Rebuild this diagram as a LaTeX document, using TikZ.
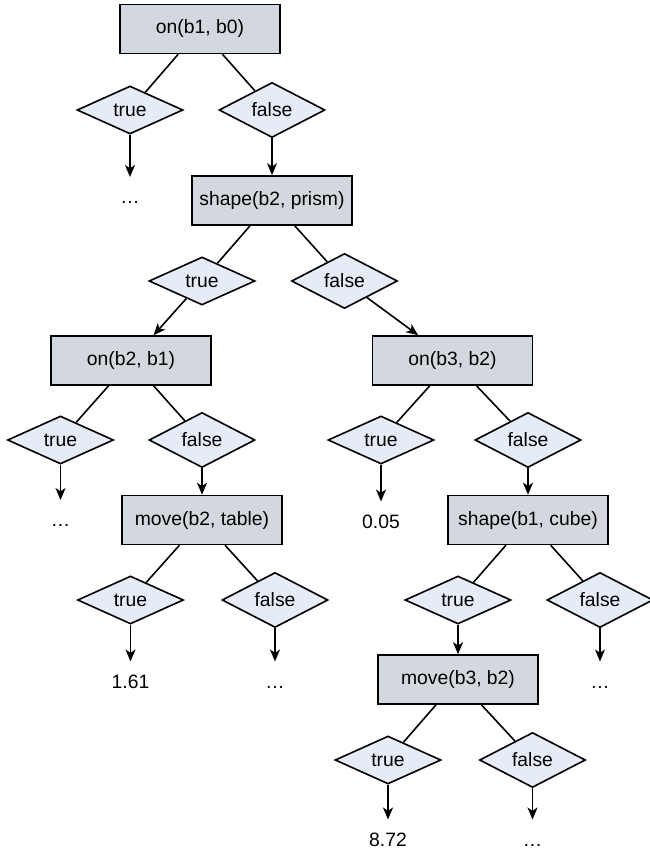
\documentclass[tikz,border=0pt]{standalone}
\usepackage{fontspec}
\setmainfont{Liberation Sans}
\usetikzlibrary{shapes.geometric,arrows.meta}

\definecolor{boxgray}{RGB}{211,216,222}
\definecolor{diamblue}{RGB}{229,235,247}

\tikzset{
  test/.style={draw, line width=1.2pt, fill=boxgray, rectangle, minimum width=120pt, minimum height=36.75pt, inner sep=0pt},
  answer/.style={draw, line width=1.2pt, fill=diamblue, diamond, minimum width=79.5pt, minimum height=36pt, inner sep=0pt},
  leaf/.style={inner xsep=2pt, inner ysep=9.6pt, text height=10.4pt, text depth=0pt},
  branch/.style={line width=1.2pt},
  arrow/.style={line width=1.2pt, -{Stealth[length=9pt,width=7.5pt,inset=2.5pt]}}
}

\begin{document}
\begin{tikzpicture}[x=0.75pt,y=0.75pt,yscale=-1,xscale=1,font=\fontsize{14.5}{17}\selectfont]
\useasboundingbox (0,0) rectangle (649,855);

% Test: on(b1, b0)
\node [test] (on10) at (200,29) {on(b1, b0)};
\node [answer] (on10t) at (130,110) {true};
\node [answer] (on10f) at (272,110) {false};
\node [leaf] (leafa) at (130,197) {…};

% Test: shape(b2, prism)
\node [test] (shape2) at (272,200.5) {shape(b2, prism)};
\node [answer] (shape2t) at (202,281) {true};
\node [answer] (shape2f) at (344.5,281) {false};

% Test: on(b2, b1)
\node [test] (on21) at (131,360.5) {on(b2, b1)};
\node [answer] (on21t) at (60.5,440) {true};
\node [answer] (on21f) at (202,440) {false};
\node [leaf] (leafb) at (60.5,520) {…};

% Test: on(b3, b2)
\node [test] (on32) at (452.5,360.5) {on(b3, b2)};
\node [answer] (on32t) at (381,440) {true};
\node [answer] (on32f) at (528,440) {false};
\node [leaf] (leafc) at (381,521.5) {0.05};

% Test: move(b2, table)
\node [test] (move2) at (202,520) {move(b2, table)};
\node [answer] (move2t) at (130.5,600) {true};
\node [answer] (move2f) at (275,600) {false};
\node [leaf] (leafd) at (130.5,681.5) {1.61};
\node [leaf] (leafe) at (275,681.5) {…};

% Test: shape(b1, cube)
\node [test] (shape1) at (528,520) {shape(b1, cube)};
\node [answer] (shape1t) at (458,600) {true};
\node [answer] (shape1f) at (600,600) {false};
\node [leaf] (leaff) at (600,681.5) {…};

% Test: move(b3, b2)
\node [test] (move3) at (458,679.5) {move(b3, b2)};
\node [answer] (move3t) at (388,760) {true};
\node [answer] (move3f) at (532.5,760) {false};
\node [leaf] (leafg) at (388,839.5) {8.72};
\node [leaf] (leafh) at (532.5,839.5) {…};

% Branches
\draw [branch] (on10) -- (on10t);
\draw [branch] (on10) -- (on10f);
\draw [branch] (shape2) -- (shape2t);
\draw [branch] (shape2) -- (shape2f);
\draw [branch] (on21) -- (on21t);
\draw [branch] (on21) -- (on21f);
\draw [branch] (on32) -- (on32t);
\draw [branch] (on32) -- (on32f);
\draw [branch] (move2) -- (move2t);
\draw [branch] (move2) -- (move2f);
\draw [branch] (shape1) -- (shape1t);
\draw [branch] (shape1) -- (shape1f);
\draw [branch] (move3) -- (move3t);
\draw [branch] (move3) -- (move3f);

% Arrows
\draw [arrow] (on10t) -- (leafa);
\draw [arrow] (on10f) -- (shape2);
\draw [arrow] (shape2t) -- (on21);
\draw [arrow] (shape2f) -- (on32);
\draw [arrow] (on21t) -- (leafb);
\draw [arrow] (on21f) -- (move2);
\draw [arrow] (on32t) -- (leafc);
\draw [arrow] (on32f) -- (shape1);
\draw [arrow] (move2t) -- (leafd);
\draw [arrow] (move2f) -- (leafe);
\draw [arrow] (shape1t) -- (move3);
\draw [arrow] (shape1f) -- (leaff);
\draw [arrow] (move3t) -- (leafg);
\draw [arrow] (move3f) -- (leafh);

\end{tikzpicture}
\end{document}
